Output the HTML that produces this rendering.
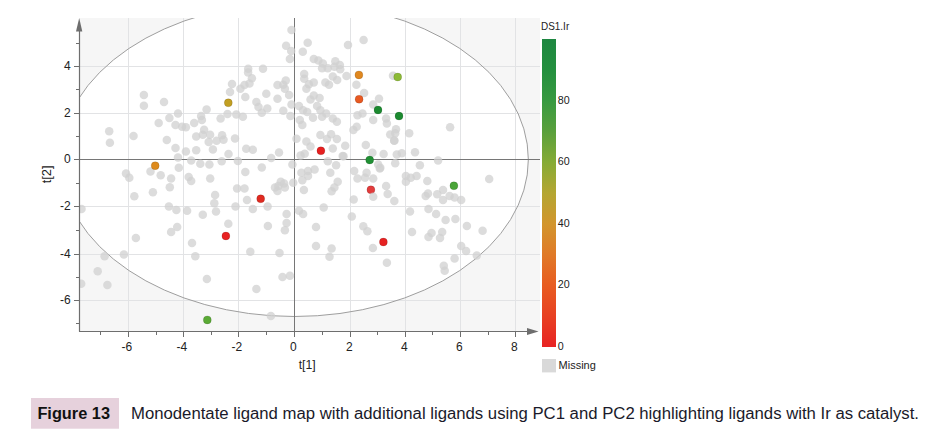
<!DOCTYPE html><html><head><meta charset="utf-8"><style>
html,body{margin:0;padding:0;background:#fff;}body{width:934px;height:435px;overflow:hidden;}
svg{display:block;font-family:"Liberation Sans",sans-serif;}
</style></head><body>
<svg width="934" height="435" viewBox="0 0 934 435">
<defs><clipPath id="pc"><rect x="80" y="18" width="460" height="313"/></clipPath>
<linearGradient id="cb" x1="0" y1="1" x2="0" y2="0"><stop offset="0" stop-color="#e82323"/><stop offset="0.1" stop-color="#e84123"/><stop offset="0.2" stop-color="#e85c21"/><stop offset="0.3" stop-color="#e07a28"/><stop offset="0.4" stop-color="#d2962d"/><stop offset="0.5" stop-color="#b4a632"/><stop offset="0.6" stop-color="#86ab36"/><stop offset="0.7" stop-color="#5aa03c"/><stop offset="0.8" stop-color="#389a41"/><stop offset="0.9" stop-color="#24903f"/><stop offset="1" stop-color="#1e8741"/></linearGradient></defs>
<rect x="80" y="18" width="460" height="313" fill="#f6f6f6"/>
<g clip-path="url(#pc)">
<ellipse cx="294.35" cy="159.5" rx="234" ry="157" fill="#ffffff"/>
<line x1="128.5" y1="18" x2="128.5" y2="331" stroke="#e2e3e5" stroke-width="1"/>
<line x1="183.5" y1="18" x2="183.5" y2="331" stroke="#e2e3e5" stroke-width="1"/>
<line x1="238.5" y1="18" x2="238.5" y2="331" stroke="#e2e3e5" stroke-width="1"/>
<line x1="350.5" y1="18" x2="350.5" y2="331" stroke="#e2e3e5" stroke-width="1"/>
<line x1="405.5" y1="18" x2="405.5" y2="331" stroke="#e2e3e5" stroke-width="1"/>
<line x1="460.5" y1="18" x2="460.5" y2="331" stroke="#e2e3e5" stroke-width="1"/>
<line x1="515.5" y1="18" x2="515.5" y2="331" stroke="#e2e3e5" stroke-width="1"/>
<line x1="80" y1="66.5" x2="540" y2="66.5" stroke="#e2e3e5" stroke-width="1"/>
<line x1="80" y1="113.5" x2="540" y2="113.5" stroke="#e2e3e5" stroke-width="1"/>
<line x1="80" y1="206.5" x2="540" y2="206.5" stroke="#e2e3e5" stroke-width="1"/>
<line x1="80" y1="254.5" x2="540" y2="254.5" stroke="#e2e3e5" stroke-width="1"/>
<line x1="80" y1="300.5" x2="540" y2="300.5" stroke="#e2e3e5" stroke-width="1"/>
<ellipse cx="294.35" cy="159.5" rx="234" ry="157" fill="none" stroke="#9e9e9e" stroke-width="1"/>
<line x1="294.5" y1="18" x2="294.5" y2="331" stroke="#767676" stroke-width="1"/>
<line x1="80" y1="159.5" x2="540" y2="159.5" stroke="#767676" stroke-width="1"/>
<circle cx="291.5" cy="29.9" r="4.25" fill="#d0d0d0" fill-opacity="0.75"/>
<circle cx="286.1" cy="45.7" r="4.25" fill="#d0d0d0" fill-opacity="0.75"/>
<circle cx="291.2" cy="51.0" r="4.25" fill="#d0d0d0" fill-opacity="0.75"/>
<circle cx="289.9" cy="58.9" r="4.25" fill="#d0d0d0" fill-opacity="0.75"/>
<circle cx="307.7" cy="42.8" r="4.25" fill="#d0d0d0" fill-opacity="0.75"/>
<circle cx="302.8" cy="51.8" r="4.25" fill="#d0d0d0" fill-opacity="0.75"/>
<circle cx="363.6" cy="40.0" r="4.25" fill="#d0d0d0" fill-opacity="0.75"/>
<circle cx="348.0" cy="44.9" r="4.25" fill="#d0d0d0" fill-opacity="0.75"/>
<circle cx="313.8" cy="58.9" r="4.25" fill="#d0d0d0" fill-opacity="0.75"/>
<circle cx="318.4" cy="60.6" r="4.25" fill="#d0d0d0" fill-opacity="0.75"/>
<circle cx="322.9" cy="63.4" r="4.25" fill="#d0d0d0" fill-opacity="0.75"/>
<circle cx="322.1" cy="68.3" r="4.25" fill="#d0d0d0" fill-opacity="0.75"/>
<circle cx="327.8" cy="68.3" r="4.25" fill="#d0d0d0" fill-opacity="0.75"/>
<circle cx="335.3" cy="61.2" r="4.25" fill="#d0d0d0" fill-opacity="0.75"/>
<circle cx="339.9" cy="65.0" r="4.25" fill="#d0d0d0" fill-opacity="0.75"/>
<circle cx="340.2" cy="69.2" r="4.25" fill="#d0d0d0" fill-opacity="0.75"/>
<circle cx="334.4" cy="66.7" r="4.25" fill="#d0d0d0" fill-opacity="0.75"/>
<circle cx="346.5" cy="76.1" r="4.25" fill="#d0d0d0" fill-opacity="0.75"/>
<circle cx="248.2" cy="68.7" r="4.25" fill="#d0d0d0" fill-opacity="0.75"/>
<circle cx="248.1" cy="72.5" r="4.25" fill="#d0d0d0" fill-opacity="0.75"/>
<circle cx="263.0" cy="68.8" r="4.25" fill="#d0d0d0" fill-opacity="0.75"/>
<circle cx="251.9" cy="78.2" r="4.25" fill="#d0d0d0" fill-opacity="0.75"/>
<circle cx="244.5" cy="85.0" r="4.25" fill="#d0d0d0" fill-opacity="0.75"/>
<circle cx="249.5" cy="83.5" r="4.25" fill="#d0d0d0" fill-opacity="0.75"/>
<circle cx="232.0" cy="84.0" r="4.25" fill="#d0d0d0" fill-opacity="0.75"/>
<circle cx="285.8" cy="80.4" r="4.25" fill="#d0d0d0" fill-opacity="0.75"/>
<circle cx="277.5" cy="85.0" r="4.25" fill="#d0d0d0" fill-opacity="0.75"/>
<circle cx="283.3" cy="84.7" r="4.25" fill="#d0d0d0" fill-opacity="0.75"/>
<circle cx="284.9" cy="88.8" r="4.25" fill="#d0d0d0" fill-opacity="0.75"/>
<circle cx="304.2" cy="74.1" r="4.25" fill="#d0d0d0" fill-opacity="0.75"/>
<circle cx="304.2" cy="78.7" r="4.25" fill="#d0d0d0" fill-opacity="0.75"/>
<circle cx="308.9" cy="84.2" r="4.25" fill="#d0d0d0" fill-opacity="0.75"/>
<circle cx="313.8" cy="82.6" r="4.25" fill="#d0d0d0" fill-opacity="0.75"/>
<circle cx="325.4" cy="82.4" r="4.25" fill="#d0d0d0" fill-opacity="0.75"/>
<circle cx="329.0" cy="84.8" r="4.25" fill="#d0d0d0" fill-opacity="0.75"/>
<circle cx="332.8" cy="76.6" r="4.25" fill="#d0d0d0" fill-opacity="0.75"/>
<circle cx="337.2" cy="79.9" r="4.25" fill="#d0d0d0" fill-opacity="0.75"/>
<circle cx="356.4" cy="84.8" r="4.25" fill="#d0d0d0" fill-opacity="0.75"/>
<circle cx="393.0" cy="75.8" r="4.25" fill="#d0d0d0" fill-opacity="0.75"/>
<circle cx="143.9" cy="94.9" r="4.25" fill="#d0d0d0" fill-opacity="0.75"/>
<circle cx="143.9" cy="105.8" r="4.25" fill="#d0d0d0" fill-opacity="0.75"/>
<circle cx="164.0" cy="102.0" r="4.25" fill="#d0d0d0" fill-opacity="0.75"/>
<circle cx="178.0" cy="113.5" r="4.25" fill="#d0d0d0" fill-opacity="0.75"/>
<circle cx="169.4" cy="118.1" r="4.25" fill="#d0d0d0" fill-opacity="0.75"/>
<circle cx="158.7" cy="122.9" r="4.25" fill="#d0d0d0" fill-opacity="0.75"/>
<circle cx="175.5" cy="125.1" r="4.25" fill="#d0d0d0" fill-opacity="0.75"/>
<circle cx="182.1" cy="126.7" r="4.25" fill="#d0d0d0" fill-opacity="0.75"/>
<circle cx="185.9" cy="127.2" r="4.25" fill="#d0d0d0" fill-opacity="0.75"/>
<circle cx="194.2" cy="122.9" r="4.25" fill="#d0d0d0" fill-opacity="0.75"/>
<circle cx="201.1" cy="116.0" r="4.25" fill="#d0d0d0" fill-opacity="0.75"/>
<circle cx="201.9" cy="120.1" r="4.25" fill="#d0d0d0" fill-opacity="0.75"/>
<circle cx="206.6" cy="109.4" r="4.25" fill="#d0d0d0" fill-opacity="0.75"/>
<circle cx="220.6" cy="118.5" r="4.25" fill="#d0d0d0" fill-opacity="0.75"/>
<circle cx="227.5" cy="114.0" r="4.25" fill="#d0d0d0" fill-opacity="0.75"/>
<circle cx="230.0" cy="92.1" r="4.25" fill="#d0d0d0" fill-opacity="0.75"/>
<circle cx="109.2" cy="131.3" r="4.25" fill="#d0d0d0" fill-opacity="0.75"/>
<circle cx="109.9" cy="142.7" r="4.25" fill="#d0d0d0" fill-opacity="0.75"/>
<circle cx="133.5" cy="136.1" r="4.25" fill="#d0d0d0" fill-opacity="0.75"/>
<circle cx="166.8" cy="139.9" r="4.25" fill="#d0d0d0" fill-opacity="0.75"/>
<circle cx="175.5" cy="147.9" r="4.25" fill="#d0d0d0" fill-opacity="0.75"/>
<circle cx="185.9" cy="151.5" r="4.25" fill="#d0d0d0" fill-opacity="0.75"/>
<circle cx="196.2" cy="150.3" r="4.25" fill="#d0d0d0" fill-opacity="0.75"/>
<circle cx="196.2" cy="136.6" r="4.25" fill="#d0d0d0" fill-opacity="0.75"/>
<circle cx="202.8" cy="134.7" r="4.25" fill="#d0d0d0" fill-opacity="0.75"/>
<circle cx="204.1" cy="129.7" r="4.25" fill="#d0d0d0" fill-opacity="0.75"/>
<circle cx="210.1" cy="134.7" r="4.25" fill="#d0d0d0" fill-opacity="0.75"/>
<circle cx="208.7" cy="142.1" r="4.25" fill="#d0d0d0" fill-opacity="0.75"/>
<circle cx="212.9" cy="149.4" r="4.25" fill="#d0d0d0" fill-opacity="0.75"/>
<circle cx="216.6" cy="140.7" r="4.25" fill="#d0d0d0" fill-opacity="0.75"/>
<circle cx="222.1" cy="135.2" r="4.25" fill="#d0d0d0" fill-opacity="0.75"/>
<circle cx="223.5" cy="139.8" r="4.25" fill="#d0d0d0" fill-opacity="0.75"/>
<circle cx="228.5" cy="154.0" r="4.25" fill="#d0d0d0" fill-opacity="0.75"/>
<circle cx="240.4" cy="88.8" r="4.25" fill="#d0d0d0" fill-opacity="0.75"/>
<circle cx="245.3" cy="97.0" r="4.25" fill="#d0d0d0" fill-opacity="0.75"/>
<circle cx="266.3" cy="93.7" r="4.25" fill="#d0d0d0" fill-opacity="0.75"/>
<circle cx="256.4" cy="102.0" r="4.25" fill="#d0d0d0" fill-opacity="0.75"/>
<circle cx="258.5" cy="106.9" r="4.25" fill="#d0d0d0" fill-opacity="0.75"/>
<circle cx="267.3" cy="108.6" r="4.25" fill="#d0d0d0" fill-opacity="0.75"/>
<circle cx="261.8" cy="112.7" r="4.25" fill="#d0d0d0" fill-opacity="0.75"/>
<circle cx="277.5" cy="98.7" r="4.25" fill="#d0d0d0" fill-opacity="0.75"/>
<circle cx="289.1" cy="94.9" r="4.25" fill="#d0d0d0" fill-opacity="0.75"/>
<circle cx="291.5" cy="104.5" r="4.25" fill="#d0d0d0" fill-opacity="0.75"/>
<circle cx="283.3" cy="110.7" r="4.25" fill="#d0d0d0" fill-opacity="0.75"/>
<circle cx="290.4" cy="116.0" r="4.25" fill="#d0d0d0" fill-opacity="0.75"/>
<circle cx="236.3" cy="114.4" r="4.25" fill="#d0d0d0" fill-opacity="0.75"/>
<circle cx="242.9" cy="116.8" r="4.25" fill="#d0d0d0" fill-opacity="0.75"/>
<circle cx="235.0" cy="138.4" r="4.25" fill="#d0d0d0" fill-opacity="0.75"/>
<circle cx="246.2" cy="148.7" r="4.25" fill="#d0d0d0" fill-opacity="0.75"/>
<circle cx="252.8" cy="149.8" r="4.25" fill="#d0d0d0" fill-opacity="0.75"/>
<circle cx="279.0" cy="152.5" r="4.25" fill="#d0d0d0" fill-opacity="0.75"/>
<circle cx="296.5" cy="138.8" r="4.25" fill="#d0d0d0" fill-opacity="0.75"/>
<circle cx="299.0" cy="106.1" r="4.25" fill="#d0d0d0" fill-opacity="0.75"/>
<circle cx="303.1" cy="110.2" r="4.25" fill="#d0d0d0" fill-opacity="0.75"/>
<circle cx="307.2" cy="111.9" r="4.25" fill="#d0d0d0" fill-opacity="0.75"/>
<circle cx="310.5" cy="99.5" r="4.25" fill="#d0d0d0" fill-opacity="0.75"/>
<circle cx="313.8" cy="95.4" r="4.25" fill="#d0d0d0" fill-opacity="0.75"/>
<circle cx="319.6" cy="97.9" r="4.25" fill="#d0d0d0" fill-opacity="0.75"/>
<circle cx="317.1" cy="106.1" r="4.25" fill="#d0d0d0" fill-opacity="0.75"/>
<circle cx="320.4" cy="110.2" r="4.25" fill="#d0d0d0" fill-opacity="0.75"/>
<circle cx="313.0" cy="117.7" r="4.25" fill="#d0d0d0" fill-opacity="0.75"/>
<circle cx="322.1" cy="116.8" r="4.25" fill="#d0d0d0" fill-opacity="0.75"/>
<circle cx="326.2" cy="113.5" r="4.25" fill="#d0d0d0" fill-opacity="0.75"/>
<circle cx="299.8" cy="120.1" r="4.25" fill="#d0d0d0" fill-opacity="0.75"/>
<circle cx="302.3" cy="125.1" r="4.25" fill="#d0d0d0" fill-opacity="0.75"/>
<circle cx="332.8" cy="118.5" r="4.25" fill="#d0d0d0" fill-opacity="0.75"/>
<circle cx="336.9" cy="121.8" r="4.25" fill="#d0d0d0" fill-opacity="0.75"/>
<circle cx="306.4" cy="88.8" r="4.25" fill="#d0d0d0" fill-opacity="0.75"/>
<circle cx="320.4" cy="135.0" r="4.25" fill="#d0d0d0" fill-opacity="0.75"/>
<circle cx="327.0" cy="139.1" r="4.25" fill="#d0d0d0" fill-opacity="0.75"/>
<circle cx="331.1" cy="134.2" r="4.25" fill="#d0d0d0" fill-opacity="0.75"/>
<circle cx="336.9" cy="139.1" r="4.25" fill="#d0d0d0" fill-opacity="0.75"/>
<circle cx="306.4" cy="141.6" r="4.25" fill="#d0d0d0" fill-opacity="0.75"/>
<circle cx="310.5" cy="146.5" r="4.25" fill="#d0d0d0" fill-opacity="0.75"/>
<circle cx="332.8" cy="148.5" r="4.25" fill="#d0d0d0" fill-opacity="0.75"/>
<circle cx="345.2" cy="145.7" r="4.25" fill="#d0d0d0" fill-opacity="0.75"/>
<circle cx="364.1" cy="92.9" r="4.25" fill="#d0d0d0" fill-opacity="0.75"/>
<circle cx="357.5" cy="115.2" r="4.25" fill="#d0d0d0" fill-opacity="0.75"/>
<circle cx="362.5" cy="113.5" r="4.25" fill="#d0d0d0" fill-opacity="0.75"/>
<circle cx="373.2" cy="104.5" r="4.25" fill="#d0d0d0" fill-opacity="0.75"/>
<circle cx="379.0" cy="98.7" r="4.25" fill="#d0d0d0" fill-opacity="0.75"/>
<circle cx="373.2" cy="120.1" r="4.25" fill="#d0d0d0" fill-opacity="0.75"/>
<circle cx="356.7" cy="126.7" r="4.25" fill="#d0d0d0" fill-opacity="0.75"/>
<circle cx="353.4" cy="130.0" r="4.25" fill="#d0d0d0" fill-opacity="0.75"/>
<circle cx="365.8" cy="144.9" r="4.25" fill="#d0d0d0" fill-opacity="0.75"/>
<circle cx="372.4" cy="152.8" r="4.25" fill="#d0d0d0" fill-opacity="0.75"/>
<circle cx="386.1" cy="118.5" r="4.25" fill="#d0d0d0" fill-opacity="0.75"/>
<circle cx="386.9" cy="123.4" r="4.25" fill="#d0d0d0" fill-opacity="0.75"/>
<circle cx="396.0" cy="129.2" r="4.25" fill="#d0d0d0" fill-opacity="0.75"/>
<circle cx="395.2" cy="133.3" r="4.25" fill="#d0d0d0" fill-opacity="0.75"/>
<circle cx="390.2" cy="134.5" r="4.25" fill="#d0d0d0" fill-opacity="0.75"/>
<circle cx="394.3" cy="140.8" r="4.25" fill="#d0d0d0" fill-opacity="0.75"/>
<circle cx="409.2" cy="133.3" r="4.25" fill="#d0d0d0" fill-opacity="0.75"/>
<circle cx="450.1" cy="127.2" r="4.25" fill="#d0d0d0" fill-opacity="0.75"/>
<circle cx="383.6" cy="154.0" r="4.25" fill="#d0d0d0" fill-opacity="0.75"/>
<circle cx="396.8" cy="154.6" r="4.25" fill="#d0d0d0" fill-opacity="0.75"/>
<circle cx="401.8" cy="153.3" r="4.25" fill="#d0d0d0" fill-opacity="0.75"/>
<circle cx="415.0" cy="152.2" r="4.25" fill="#d0d0d0" fill-opacity="0.75"/>
<circle cx="178.0" cy="157.6" r="4.25" fill="#d0d0d0" fill-opacity="0.75"/>
<circle cx="191.2" cy="160.4" r="4.25" fill="#d0d0d0" fill-opacity="0.75"/>
<circle cx="200.3" cy="163.7" r="4.25" fill="#d0d0d0" fill-opacity="0.75"/>
<circle cx="209.4" cy="164.5" r="4.25" fill="#d0d0d0" fill-opacity="0.75"/>
<circle cx="221.7" cy="161.2" r="4.25" fill="#d0d0d0" fill-opacity="0.75"/>
<circle cx="150.5" cy="171.4" r="4.25" fill="#d0d0d0" fill-opacity="0.75"/>
<circle cx="160.7" cy="175.2" r="4.25" fill="#d0d0d0" fill-opacity="0.75"/>
<circle cx="126.0" cy="173.6" r="4.25" fill="#d0d0d0" fill-opacity="0.75"/>
<circle cx="129.3" cy="177.7" r="4.25" fill="#d0d0d0" fill-opacity="0.75"/>
<circle cx="171.1" cy="178.5" r="4.25" fill="#d0d0d0" fill-opacity="0.75"/>
<circle cx="178.8" cy="167.8" r="4.25" fill="#d0d0d0" fill-opacity="0.75"/>
<circle cx="188.7" cy="176.9" r="4.25" fill="#d0d0d0" fill-opacity="0.75"/>
<circle cx="191.2" cy="181.0" r="4.25" fill="#d0d0d0" fill-opacity="0.75"/>
<circle cx="210.2" cy="178.5" r="4.25" fill="#d0d0d0" fill-opacity="0.75"/>
<circle cx="169.8" cy="187.3" r="4.25" fill="#d0d0d0" fill-opacity="0.75"/>
<circle cx="152.9" cy="192.2" r="4.25" fill="#d0d0d0" fill-opacity="0.75"/>
<circle cx="134.3" cy="196.2" r="4.25" fill="#d0d0d0" fill-opacity="0.75"/>
<circle cx="215.1" cy="195.0" r="4.25" fill="#d0d0d0" fill-opacity="0.75"/>
<circle cx="214.3" cy="203.3" r="4.25" fill="#d0d0d0" fill-opacity="0.75"/>
<circle cx="216.0" cy="211.5" r="4.25" fill="#d0d0d0" fill-opacity="0.75"/>
<circle cx="168.9" cy="206.6" r="4.25" fill="#d0d0d0" fill-opacity="0.75"/>
<circle cx="176.4" cy="209.9" r="4.25" fill="#d0d0d0" fill-opacity="0.75"/>
<circle cx="187.1" cy="210.7" r="4.25" fill="#d0d0d0" fill-opacity="0.75"/>
<circle cx="202.8" cy="214.8" r="4.25" fill="#d0d0d0" fill-opacity="0.75"/>
<circle cx="81.5" cy="209.1" r="4.25" fill="#d0d0d0" fill-opacity="0.75"/>
<circle cx="237.9" cy="160.9" r="4.25" fill="#d0d0d0" fill-opacity="0.75"/>
<circle cx="271.2" cy="157.9" r="4.25" fill="#d0d0d0" fill-opacity="0.75"/>
<circle cx="261.8" cy="167.5" r="4.25" fill="#d0d0d0" fill-opacity="0.75"/>
<circle cx="245.3" cy="171.9" r="4.25" fill="#d0d0d0" fill-opacity="0.75"/>
<circle cx="292.4" cy="164.5" r="4.25" fill="#d0d0d0" fill-opacity="0.75"/>
<circle cx="300.6" cy="155.4" r="4.25" fill="#d0d0d0" fill-opacity="0.75"/>
<circle cx="304.7" cy="153.8" r="4.25" fill="#d0d0d0" fill-opacity="0.75"/>
<circle cx="343.5" cy="156.3" r="4.25" fill="#d0d0d0" fill-opacity="0.75"/>
<circle cx="327.8" cy="161.2" r="4.25" fill="#d0d0d0" fill-opacity="0.75"/>
<circle cx="336.1" cy="165.3" r="4.25" fill="#d0d0d0" fill-opacity="0.75"/>
<circle cx="330.3" cy="172.8" r="4.25" fill="#d0d0d0" fill-opacity="0.75"/>
<circle cx="301.4" cy="172.8" r="4.25" fill="#d0d0d0" fill-opacity="0.75"/>
<circle cx="308.0" cy="171.1" r="4.25" fill="#d0d0d0" fill-opacity="0.75"/>
<circle cx="314.6" cy="169.5" r="4.25" fill="#d0d0d0" fill-opacity="0.75"/>
<circle cx="308.0" cy="176.1" r="4.25" fill="#d0d0d0" fill-opacity="0.75"/>
<circle cx="302.3" cy="180.2" r="4.25" fill="#d0d0d0" fill-opacity="0.75"/>
<circle cx="293.2" cy="182.7" r="4.25" fill="#d0d0d0" fill-opacity="0.75"/>
<circle cx="280.8" cy="181.8" r="4.25" fill="#d0d0d0" fill-opacity="0.75"/>
<circle cx="284.1" cy="183.5" r="4.25" fill="#d0d0d0" fill-opacity="0.75"/>
<circle cx="278.3" cy="186.0" r="4.25" fill="#d0d0d0" fill-opacity="0.75"/>
<circle cx="275.0" cy="187.6" r="4.25" fill="#d0d0d0" fill-opacity="0.75"/>
<circle cx="277.5" cy="190.9" r="4.25" fill="#d0d0d0" fill-opacity="0.75"/>
<circle cx="284.9" cy="187.6" r="4.25" fill="#d0d0d0" fill-opacity="0.75"/>
<circle cx="303.9" cy="190.1" r="4.25" fill="#d0d0d0" fill-opacity="0.75"/>
<circle cx="337.7" cy="181.8" r="4.25" fill="#d0d0d0" fill-opacity="0.75"/>
<circle cx="334.4" cy="187.6" r="4.25" fill="#d0d0d0" fill-opacity="0.75"/>
<circle cx="331.6" cy="191.2" r="4.25" fill="#d0d0d0" fill-opacity="0.75"/>
<circle cx="237.1" cy="188.4" r="4.25" fill="#d0d0d0" fill-opacity="0.75"/>
<circle cx="244.5" cy="188.4" r="4.25" fill="#d0d0d0" fill-opacity="0.75"/>
<circle cx="247.0" cy="200.0" r="4.25" fill="#d0d0d0" fill-opacity="0.75"/>
<circle cx="267.6" cy="206.6" r="4.25" fill="#d0d0d0" fill-opacity="0.75"/>
<circle cx="235.5" cy="206.6" r="4.25" fill="#d0d0d0" fill-opacity="0.75"/>
<circle cx="252.8" cy="209.1" r="4.25" fill="#d0d0d0" fill-opacity="0.75"/>
<circle cx="286.6" cy="214.0" r="4.25" fill="#d0d0d0" fill-opacity="0.75"/>
<circle cx="299.0" cy="210.7" r="4.25" fill="#d0d0d0" fill-opacity="0.75"/>
<circle cx="303.1" cy="214.0" r="4.25" fill="#d0d0d0" fill-opacity="0.75"/>
<circle cx="323.7" cy="207.4" r="4.25" fill="#d0d0d0" fill-opacity="0.75"/>
<circle cx="378.2" cy="164.5" r="4.25" fill="#d0d0d0" fill-opacity="0.75"/>
<circle cx="379.8" cy="168.6" r="4.25" fill="#d0d0d0" fill-opacity="0.75"/>
<circle cx="354.2" cy="171.1" r="4.25" fill="#d0d0d0" fill-opacity="0.75"/>
<circle cx="357.5" cy="178.5" r="4.25" fill="#d0d0d0" fill-opacity="0.75"/>
<circle cx="366.6" cy="172.8" r="4.25" fill="#d0d0d0" fill-opacity="0.75"/>
<circle cx="365.0" cy="177.7" r="4.25" fill="#d0d0d0" fill-opacity="0.75"/>
<circle cx="373.2" cy="178.5" r="4.25" fill="#d0d0d0" fill-opacity="0.75"/>
<circle cx="353.7" cy="199.5" r="4.25" fill="#d0d0d0" fill-opacity="0.75"/>
<circle cx="351.8" cy="216.5" r="4.25" fill="#d0d0d0" fill-opacity="0.75"/>
<circle cx="342.7" cy="155.9" r="4.25" fill="#d0d0d0" fill-opacity="0.75"/>
<circle cx="394.2" cy="140.6" r="4.25" fill="#d0d0d0" fill-opacity="0.75"/>
<circle cx="438.1" cy="160.4" r="4.25" fill="#d0d0d0" fill-opacity="0.75"/>
<circle cx="395.2" cy="163.2" r="4.25" fill="#d0d0d0" fill-opacity="0.75"/>
<circle cx="419.9" cy="165.3" r="4.25" fill="#d0d0d0" fill-opacity="0.75"/>
<circle cx="380.3" cy="167.8" r="4.25" fill="#d0d0d0" fill-opacity="0.75"/>
<circle cx="405.9" cy="176.1" r="4.25" fill="#d0d0d0" fill-opacity="0.75"/>
<circle cx="410.8" cy="177.7" r="4.25" fill="#d0d0d0" fill-opacity="0.75"/>
<circle cx="416.6" cy="176.1" r="4.25" fill="#d0d0d0" fill-opacity="0.75"/>
<circle cx="405.9" cy="181.8" r="4.25" fill="#d0d0d0" fill-opacity="0.75"/>
<circle cx="427.3" cy="181.0" r="4.25" fill="#d0d0d0" fill-opacity="0.75"/>
<circle cx="386.1" cy="186.0" r="4.25" fill="#d0d0d0" fill-opacity="0.75"/>
<circle cx="387.7" cy="193.9" r="4.25" fill="#d0d0d0" fill-opacity="0.75"/>
<circle cx="394.3" cy="201.1" r="4.25" fill="#d0d0d0" fill-opacity="0.75"/>
<circle cx="489.2" cy="179.0" r="4.25" fill="#d0d0d0" fill-opacity="0.75"/>
<circle cx="443.0" cy="190.1" r="4.25" fill="#d0d0d0" fill-opacity="0.75"/>
<circle cx="437.2" cy="194.2" r="4.25" fill="#d0d0d0" fill-opacity="0.75"/>
<circle cx="425.7" cy="195.9" r="4.25" fill="#d0d0d0" fill-opacity="0.75"/>
<circle cx="428.0" cy="193.5" r="4.25" fill="#d0d0d0" fill-opacity="0.75"/>
<circle cx="449.6" cy="195.9" r="4.25" fill="#d0d0d0" fill-opacity="0.75"/>
<circle cx="454.6" cy="197.5" r="4.25" fill="#d0d0d0" fill-opacity="0.75"/>
<circle cx="461.2" cy="200.0" r="4.25" fill="#d0d0d0" fill-opacity="0.75"/>
<circle cx="443.0" cy="200.0" r="4.25" fill="#d0d0d0" fill-opacity="0.75"/>
<circle cx="410.0" cy="211.5" r="4.25" fill="#d0d0d0" fill-opacity="0.75"/>
<circle cx="428.5" cy="209.1" r="4.25" fill="#d0d0d0" fill-opacity="0.75"/>
<circle cx="436.1" cy="214.0" r="4.25" fill="#d0d0d0" fill-opacity="0.75"/>
<circle cx="445.6" cy="220.0" r="4.25" fill="#d0d0d0" fill-opacity="0.75"/>
<circle cx="455.4" cy="219.0" r="4.25" fill="#d0d0d0" fill-opacity="0.75"/>
<circle cx="177.2" cy="227.0" r="4.25" fill="#d0d0d0" fill-opacity="0.75"/>
<circle cx="171.1" cy="232.0" r="4.25" fill="#d0d0d0" fill-opacity="0.75"/>
<circle cx="135.9" cy="238.1" r="4.25" fill="#d0d0d0" fill-opacity="0.75"/>
<circle cx="192.0" cy="243.0" r="4.25" fill="#d0d0d0" fill-opacity="0.75"/>
<circle cx="228.3" cy="223.7" r="4.25" fill="#d0d0d0" fill-opacity="0.75"/>
<circle cx="104.6" cy="256.2" r="4.25" fill="#d0d0d0" fill-opacity="0.75"/>
<circle cx="123.9" cy="254.6" r="4.25" fill="#d0d0d0" fill-opacity="0.75"/>
<circle cx="195.3" cy="256.2" r="4.25" fill="#d0d0d0" fill-opacity="0.75"/>
<circle cx="97.7" cy="271.3" r="4.25" fill="#d0d0d0" fill-opacity="0.75"/>
<circle cx="206.9" cy="279.0" r="4.25" fill="#d0d0d0" fill-opacity="0.75"/>
<circle cx="107.4" cy="284.9" r="4.25" fill="#d0d0d0" fill-opacity="0.75"/>
<circle cx="81.2" cy="283.7" r="4.25" fill="#d0d0d0" fill-opacity="0.75"/>
<circle cx="286.6" cy="222.9" r="4.25" fill="#d0d0d0" fill-opacity="0.75"/>
<circle cx="284.9" cy="230.3" r="4.25" fill="#d0d0d0" fill-opacity="0.75"/>
<circle cx="267.9" cy="225.9" r="4.25" fill="#d0d0d0" fill-opacity="0.75"/>
<circle cx="316.0" cy="227.0" r="4.25" fill="#d0d0d0" fill-opacity="0.75"/>
<circle cx="363.3" cy="226.2" r="4.25" fill="#d0d0d0" fill-opacity="0.75"/>
<circle cx="367.4" cy="231.2" r="4.25" fill="#d0d0d0" fill-opacity="0.75"/>
<circle cx="372.9" cy="248.0" r="4.25" fill="#d0d0d0" fill-opacity="0.75"/>
<circle cx="250.3" cy="251.8" r="4.25" fill="#d0d0d0" fill-opacity="0.75"/>
<circle cx="279.5" cy="252.9" r="4.25" fill="#d0d0d0" fill-opacity="0.75"/>
<circle cx="316.0" cy="246.0" r="4.25" fill="#d0d0d0" fill-opacity="0.75"/>
<circle cx="331.6" cy="248.5" r="4.25" fill="#d0d0d0" fill-opacity="0.75"/>
<circle cx="329.5" cy="256.7" r="4.25" fill="#d0d0d0" fill-opacity="0.75"/>
<circle cx="282.5" cy="277.0" r="4.25" fill="#d0d0d0" fill-opacity="0.75"/>
<circle cx="289.9" cy="275.7" r="4.25" fill="#d0d0d0" fill-opacity="0.75"/>
<circle cx="466.9" cy="225.9" r="4.25" fill="#d0d0d0" fill-opacity="0.75"/>
<circle cx="482.6" cy="230.8" r="4.25" fill="#d0d0d0" fill-opacity="0.75"/>
<circle cx="412.0" cy="232.0" r="4.25" fill="#d0d0d0" fill-opacity="0.75"/>
<circle cx="431.5" cy="233.1" r="4.25" fill="#d0d0d0" fill-opacity="0.75"/>
<circle cx="428.5" cy="236.9" r="4.25" fill="#d0d0d0" fill-opacity="0.75"/>
<circle cx="442.2" cy="232.0" r="4.25" fill="#d0d0d0" fill-opacity="0.75"/>
<circle cx="440.0" cy="238.1" r="4.25" fill="#d0d0d0" fill-opacity="0.75"/>
<circle cx="461.2" cy="246.0" r="4.25" fill="#d0d0d0" fill-opacity="0.75"/>
<circle cx="466.1" cy="251.0" r="4.25" fill="#d0d0d0" fill-opacity="0.75"/>
<circle cx="476.8" cy="255.6" r="4.25" fill="#d0d0d0" fill-opacity="0.75"/>
<circle cx="454.6" cy="258.4" r="4.25" fill="#d0d0d0" fill-opacity="0.75"/>
<circle cx="386.9" cy="262.8" r="4.25" fill="#d0d0d0" fill-opacity="0.75"/>
<circle cx="443.8" cy="265.8" r="4.25" fill="#d0d0d0" fill-opacity="0.75"/>
<circle cx="444.7" cy="270.8" r="4.25" fill="#d0d0d0" fill-opacity="0.75"/>
<circle cx="256.4" cy="289.0" r="4.25" fill="#d0d0d0" fill-opacity="0.75"/>
<circle cx="270.9" cy="315.9" r="4.25" fill="#d0d0d0" fill-opacity="0.75"/>
<circle cx="228.3" cy="102.8" r="4.0" fill="#c29f22" stroke="#000" stroke-opacity="0.15" stroke-width="0.8"/>
<circle cx="155.2" cy="165.7" r="4.0" fill="#dd8a1c" stroke="#000" stroke-opacity="0.15" stroke-width="0.8"/>
<circle cx="358.9" cy="74.9" r="4.0" fill="#e08820" stroke="#000" stroke-opacity="0.15" stroke-width="0.8"/>
<circle cx="359.1" cy="99.2" r="4.0" fill="#e85a22" stroke="#000" stroke-opacity="0.15" stroke-width="0.8"/>
<circle cx="397.7" cy="77.0" r="4.0" fill="#8cba35" stroke="#000" stroke-opacity="0.15" stroke-width="0.8"/>
<circle cx="378.0" cy="109.9" r="4.0" fill="#1c8a30" stroke="#000" stroke-opacity="0.15" stroke-width="0.8"/>
<circle cx="399.0" cy="116.1" r="4.0" fill="#1c8a30" stroke="#000" stroke-opacity="0.15" stroke-width="0.8"/>
<circle cx="369.7" cy="160.0" r="4.0" fill="#209034" stroke="#000" stroke-opacity="0.15" stroke-width="0.8"/>
<circle cx="453.9" cy="185.8" r="4.0" fill="#4aa538" stroke="#000" stroke-opacity="0.15" stroke-width="0.8"/>
<circle cx="320.9" cy="150.8" r="4.0" fill="#e62020" stroke="#000" stroke-opacity="0.15" stroke-width="0.8"/>
<circle cx="370.9" cy="189.8" r="4.0" fill="#e23c3c" stroke="#000" stroke-opacity="0.15" stroke-width="0.8"/>
<circle cx="260.7" cy="198.8" r="4.0" fill="#e02a20" stroke="#000" stroke-opacity="0.15" stroke-width="0.8"/>
<circle cx="225.9" cy="236.0" r="4.0" fill="#e82222" stroke="#000" stroke-opacity="0.15" stroke-width="0.8"/>
<circle cx="383.4" cy="242.0" r="4.0" fill="#e62222" stroke="#000" stroke-opacity="0.15" stroke-width="0.8"/>
<circle cx="207.3" cy="319.9" r="4.0" fill="#5aaa35" stroke="#000" stroke-opacity="0.15" stroke-width="0.8"/>
<circle cx="373.2" cy="196.7" r="4.25" fill="#d0d0d0" fill-opacity="0.75"/>
</g>
<line x1="79.5" y1="28" x2="79.5" y2="331.5" stroke="#6e6e6e" stroke-width="1.2"/>
<line x1="79" y1="331.5" x2="530" y2="331.5" stroke="#6e6e6e" stroke-width="1.2"/>
<polygon points="79.2,18 76,31.6 82.3,31.6" fill="#6e6e6e"/>
<polygon points="538.6,331.5 527,328 527,335" fill="#6e6e6e"/>
<line x1="76.0" y1="323.5" x2="79" y2="323.5" stroke="#6e6e6e" stroke-width="1"/>
<line x1="74.0" y1="300.5" x2="79" y2="300.5" stroke="#6e6e6e" stroke-width="1"/>
<line x1="76.0" y1="277.5" x2="79" y2="277.5" stroke="#6e6e6e" stroke-width="1"/>
<line x1="74.0" y1="254.5" x2="79" y2="254.5" stroke="#6e6e6e" stroke-width="1"/>
<line x1="76.0" y1="230.5" x2="79" y2="230.5" stroke="#6e6e6e" stroke-width="1"/>
<line x1="74.0" y1="206.5" x2="79" y2="206.5" stroke="#6e6e6e" stroke-width="1"/>
<line x1="76.0" y1="183.5" x2="79" y2="183.5" stroke="#6e6e6e" stroke-width="1"/>
<line x1="74.0" y1="159.5" x2="79" y2="159.5" stroke="#6e6e6e" stroke-width="1"/>
<line x1="76.0" y1="136.5" x2="79" y2="136.5" stroke="#6e6e6e" stroke-width="1"/>
<line x1="74.0" y1="113.5" x2="79" y2="113.5" stroke="#6e6e6e" stroke-width="1"/>
<line x1="76.0" y1="89.5" x2="79" y2="89.5" stroke="#6e6e6e" stroke-width="1"/>
<line x1="74.0" y1="66.5" x2="79" y2="66.5" stroke="#6e6e6e" stroke-width="1"/>
<line x1="76.0" y1="43.5" x2="79" y2="43.5" stroke="#6e6e6e" stroke-width="1"/>
<line x1="100.5" y1="332" x2="100.5" y2="335" stroke="#6e6e6e" stroke-width="1"/>
<line x1="128.5" y1="332" x2="128.5" y2="337" stroke="#6e6e6e" stroke-width="1"/>
<line x1="156.5" y1="332" x2="156.5" y2="335" stroke="#6e6e6e" stroke-width="1"/>
<line x1="183.5" y1="332" x2="183.5" y2="337" stroke="#6e6e6e" stroke-width="1"/>
<line x1="211.5" y1="332" x2="211.5" y2="335" stroke="#6e6e6e" stroke-width="1"/>
<line x1="238.5" y1="332" x2="238.5" y2="337" stroke="#6e6e6e" stroke-width="1"/>
<line x1="266.5" y1="332" x2="266.5" y2="335" stroke="#6e6e6e" stroke-width="1"/>
<line x1="294.5" y1="332" x2="294.5" y2="337" stroke="#6e6e6e" stroke-width="1"/>
<line x1="322.5" y1="332" x2="322.5" y2="335" stroke="#6e6e6e" stroke-width="1"/>
<line x1="350.5" y1="332" x2="350.5" y2="337" stroke="#6e6e6e" stroke-width="1"/>
<line x1="377.5" y1="332" x2="377.5" y2="335" stroke="#6e6e6e" stroke-width="1"/>
<line x1="405.5" y1="332" x2="405.5" y2="337" stroke="#6e6e6e" stroke-width="1"/>
<line x1="432.5" y1="332" x2="432.5" y2="335" stroke="#6e6e6e" stroke-width="1"/>
<line x1="460.5" y1="332" x2="460.5" y2="337" stroke="#6e6e6e" stroke-width="1"/>
<line x1="488.5" y1="332" x2="488.5" y2="335" stroke="#6e6e6e" stroke-width="1"/>
<line x1="515.5" y1="332" x2="515.5" y2="337" stroke="#6e6e6e" stroke-width="1"/>
<text x="70.6" y="70.0" font-size="12.0" fill="#222" text-anchor="end">4</text>
<text x="70.6" y="117.0" font-size="12.0" fill="#222" text-anchor="end">2</text>
<text x="70.6" y="163.0" font-size="12.0" fill="#222" text-anchor="end">0</text>
<text x="70.6" y="210.0" font-size="12.0" fill="#222" text-anchor="end">-2</text>
<text x="70.6" y="258.0" font-size="12.0" fill="#222" text-anchor="end">-4</text>
<text x="70.6" y="304.0" font-size="12.0" fill="#222" text-anchor="end">-6</text>
<text x="126.8" y="351" font-size="12.0" fill="#222" text-anchor="middle">-6</text>
<text x="181.8" y="351" font-size="12.0" fill="#222" text-anchor="middle">-4</text>
<text x="236.8" y="351" font-size="12.0" fill="#222" text-anchor="middle">-2</text>
<text x="293.4" y="351" font-size="12.0" fill="#222" text-anchor="middle">0</text>
<text x="349.4" y="351" font-size="12.0" fill="#222" text-anchor="middle">2</text>
<text x="404.4" y="351" font-size="12.0" fill="#222" text-anchor="middle">4</text>
<text x="459.4" y="351" font-size="12.0" fill="#222" text-anchor="middle">6</text>
<text x="514.4" y="351" font-size="12.0" fill="#222" text-anchor="middle">8</text>
<text x="307.2" y="369.3" font-size="12" fill="#222" text-anchor="middle" textLength="17" lengthAdjust="spacingAndGlyphs">t[1]</text>
<text transform="translate(50.7,174.4) rotate(-90)" x="0" y="0" font-size="12" fill="#222" text-anchor="middle" textLength="17.9" lengthAdjust="spacingAndGlyphs">t[2]</text>
<text x="541.0" y="29.6" font-size="10.8" fill="#222" textLength="28.2" lengthAdjust="spacingAndGlyphs">DS1.Ir</text>
<rect x="542" y="39" width="14" height="308" fill="url(#cb)"/>
<text x="557.8" y="103.8" font-size="10.7" fill="#222">80</text>
<text x="557.8" y="164.8" font-size="10.7" fill="#222">60</text>
<text x="557.8" y="226.8" font-size="10.7" fill="#222">40</text>
<text x="557.8" y="287.8" font-size="10.7" fill="#222">20</text>
<text x="557.8" y="349.8" font-size="10.7" fill="#222">0</text>
<rect x="542" y="359" width="14" height="13.4" fill="#d9d9d9"/>
<text x="558.6" y="368.7" font-size="10.6" fill="#222" textLength="37.2" lengthAdjust="spacingAndGlyphs">Missing</text>
<rect x="31" y="398" width="88" height="30.7" fill="#e6d1dc"/>
<text x="37.4" y="418.6" font-size="16" font-weight="bold" fill="#111" textLength="72.6" lengthAdjust="spacingAndGlyphs">Figure 13</text>
<text x="131" y="418.6" font-size="16" fill="#1a1a2a" textLength="788" lengthAdjust="spacingAndGlyphs">Monodentate ligand map with additional ligands using PC1 and PC2 highlighting ligands with Ir as catalyst.</text>
</svg></body></html>
